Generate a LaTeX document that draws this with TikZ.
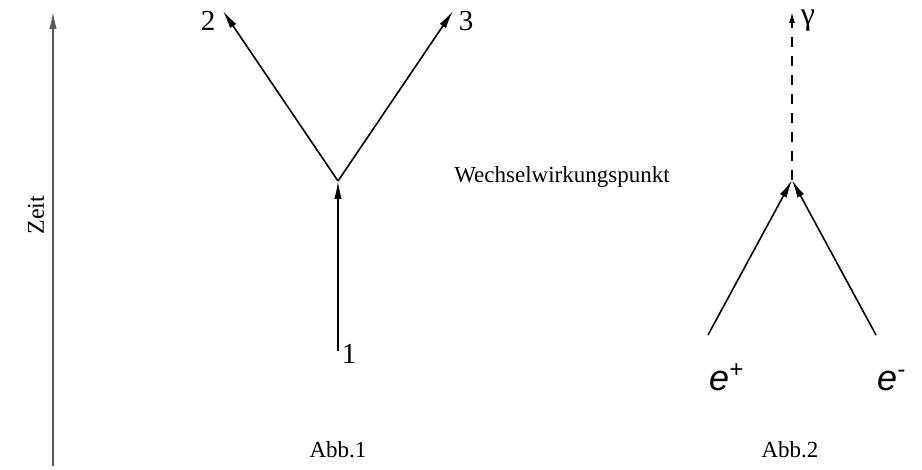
\documentclass[tikz,border=0pt]{standalone}
\usepackage{fontspec}
\setmainfont{Liberation Serif}
\newfontfamily\arialfont{Liberation Sans}
\usetikzlibrary{arrows.meta}
\begin{document}
\begin{tikzpicture}[x=1pt,y=-1pt,
  line/.style={line width=1.6pt,-{Latex[length=18pt,width=7.5pt]}},
  lbl/.style={inner sep=0pt,font=\fontsize{23}{25}\selectfont},
  num/.style={inner sep=0pt,font=\fontsize{29}{31}\selectfont},
  part/.style={inner sep=0pt,font=\arialfont\itshape\fontsize{36}{38}\selectfont}]
\useasboundingbox (0,0) rectangle (922,470);
% time axis
\coordinate (t0) at (53,466);
\coordinate (t1) at (53,12);
\draw[line width=1.3pt,gray!70!black,-{Latex[length=17pt,width=7.5pt]}] (t0) -- (t1);
\node[lbl,rotate=90,font=\fontsize{24}{26}\selectfont] (zeit) at (36,215) {Zeit};
% Abb.1
\coordinate (v1) at (338,181);
\coordinate (p1) at (338,351);
\coordinate (p2) at (223,11);
\coordinate (p3) at (453,11);
\draw[line] (p1) -- (v1);
\draw[line] (v1) -- (p2);
\draw[line] (v1) -- (p3);
\node[num] (n1) at (349,354) {1};
\node[num] (n2) at (208,21) {2};
\node[num] (n3) at (466,21) {3};
\node[lbl] (abb1) at (338,450) {Abb.1};
% middle
\node[lbl] (ww) at (562,177) {Wechselwirkungspunkt};
% Abb.2
\coordinate (v2) at (792,180);
\coordinate (ep) at (708,335);
\coordinate (em) at (876,335);
\coordinate (g) at (792,12);
\draw[line] (ep) -- (v2);
\draw[line] (em) -- (v2);
\draw[line width=1.6pt,dash pattern=on 10pt off 9pt,-{Latex[length=11pt,width=6pt]}] (v2) -- (g);
\node[num,font=\fontsize{32}{34}\selectfont] (gam) at (808,21) {γ};
\node[part,anchor=base west] (epl) at (709,391) {e\raisebox{13pt}{\fontsize{24}{26}\selectfont +}};
\node[part,anchor=base west] (eml) at (877,391) {e\raisebox{13pt}{\fontsize{24}{26}\selectfont -}};
\node[lbl] (abb2) at (790,450) {Abb.2};
\end{tikzpicture}
\end{document}
